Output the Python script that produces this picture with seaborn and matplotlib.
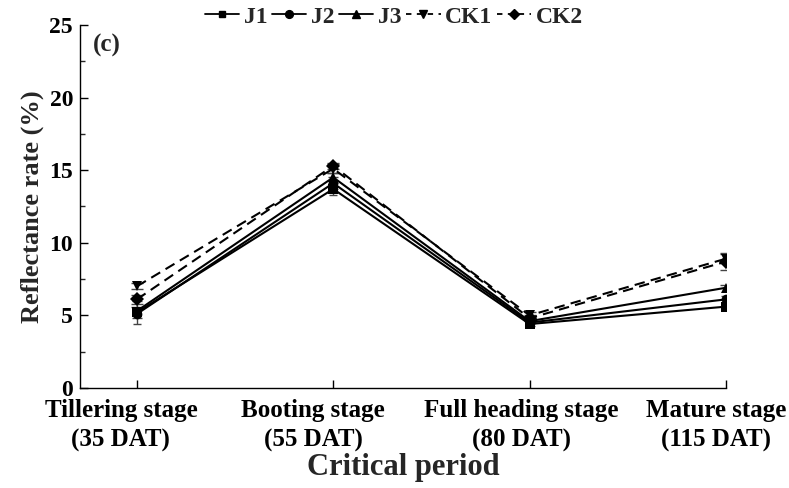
"""
Reflectance rate at critical periods
"""

import numpy as np
import pandas as pd
import matplotlib
matplotlib.use('Agg')
import matplotlib.pyplot as plt
import matplotlib.transforms as mtransforms
from matplotlib.ticker import MultipleLocator
import seaborn as sns

# data
stages = ['Tillering stage\n(35 DAT)', 'Booting stage\n(55 DAT)',
          'Full heading stage\n(80 DAT)', 'Mature stage\n(115 DAT)']
treatments = ['J1', 'J2', 'J3', 'CK1', 'CK2']
J1 = [5.2, 13.7, 4.4, 5.6]
J2 = [5.1, 14.1, 4.5, 6.1]
J3 = [5.3, 14.5, 4.6, 6.9]
CK1 = [7.0, 15.1, 5.0, 8.9]
CK2 = [6.1, 15.3, 4.8, 8.7]
J1_err = [0.8, 0.4, 0.2, 0.1]
J2_err = [0.3, 0.4, 0.2, 0.2]
J3_err = [0.3, 0.3, 0.2, 0.2]
CK1_err = [0.2, 0.3, 0.2, 0.3]
CK2_err = [0.3, 0.2, 0.2, 0.6]

values = {'J1': J1, 'J2': J2, 'J3': J3, 'CK1': CK1, 'CK2': CK2}
errors = {'J1': J1_err, 'J2': J2_err, 'J3': J3_err, 'CK1': CK1_err, 'CK2': CK2_err}

rows = []
for t in treatments:
    for i, v in enumerate(values[t]):
        rows.append({'pos': i, 'value': v, 'treatment': t})
df = pd.DataFrame(rows)

sns.set_style('ticks')
plt.rcParams['font.family'] = ['Liberation Serif', 'DejaVu Serif']
plt.rcParams['font.weight'] = 'bold'

fig = plt.figure(figsize=(7.89, 4.88), dpi=100)
ax = fig.add_axes([0.1014, 0.205, 0.8186, 0.744])

markers = {'J1': 's', 'J2': 'o', 'J3': '^', 'CK1': 'v', 'CK2': 'D'}
dashes = {'J1': '', 'J2': '', 'J3': '', 'CK1': (5, 3), 'CK2': (5, 3)}
msize = {'J1': 6, 'J2': 7, 'J3': 7, 'CK1': 7, 'CK2': 6}

# error bars first, lines on top
for t in treatments:
    ax.errorbar(range(len(stages)), values[t], yerr=errors[t], fmt='none',
                ecolor='#444444', elinewidth=1.0, capsize=4, capthick=1.0, zorder=2)

sns.lineplot(data=df, x='pos', y='value', hue='treatment', style='treatment',
             markers=markers, dashes=dashes, palette=['black'] * 5,
             markersize=7, linewidth=1.5, markeredgewidth=0, ax=ax,
             legend=False, zorder=3)
for line, t in zip(ax.lines, treatments):
    line.set_markersize(msize[t])

ax.set_xlim(-0.29, 3)
ax.set_ylim(0, 25)
ax.set_xticks(range(len(stages)))
ax.set_xticklabels(stages, fontsize=18, fontweight='bold', linespacing=1.35)
ax.yaxis.set_major_locator(MultipleLocator(5))
ax.yaxis.set_minor_locator(MultipleLocator(2.5))
ax.tick_params(axis='x', direction='in', length=6, width=1.0, colors='black', pad=8)
ax.tick_params(axis='y', direction='in', length=6, width=1.0, colors='black', pad=5)
ax.tick_params(axis='y', which='minor', direction='in', length=3.5, width=1.0)
for lab in ax.get_yticklabels():
    lab.set_fontsize(17)
    lab.set_fontweight('bold')
ax.set_xlabel('Critical period', fontsize=22, fontweight='bold', labelpad=1)
ax.set_ylabel('Reflectance rate (%)', fontsize=19, fontweight='bold', labelpad=4)
for side in ['top', 'right']:
    ax.spines[side].set_visible(False)
for side in ['left', 'bottom']:
    ax.spines[side].set_linewidth(1.0)
    ax.spines[side].set_color('black')

ax.text(0.02, 0.975, '(c)', transform=ax.transAxes, fontsize=18,
        fontweight='bold', va='top', ha='left')

# legend above the plot
handles = []
for t in treatments:
    ls = '-' if t.startswith('J') else (0, (3, 3))
    h, = ax.plot([], [], color='black', linestyle=ls, marker=markers[t],
                 markersize=msize[t] * 0.8, linewidth=1.3)
    handles.append(h)
fig.legend(handles, treatments, loc='center', bbox_to_anchor=(394 / 789, 1 - 17 / 488),
           ncol=5, frameon=False, handlelength=1.45, handletextpad=0.2,
           columnspacing=0.2, prop={'weight': 'bold', 'size': 17})

# shift x tick labels a little to the left, like the original
shifts = [-16, -20, -8, -10]
for lab, dx in zip(ax.get_xticklabels(), shifts):
    lab.set_transform(lab.get_transform() +
                      mtransforms.ScaledTranslation(dx / 100, 0, fig.dpi_scale_trans))

fig.savefig('out.png', dpi=100)
